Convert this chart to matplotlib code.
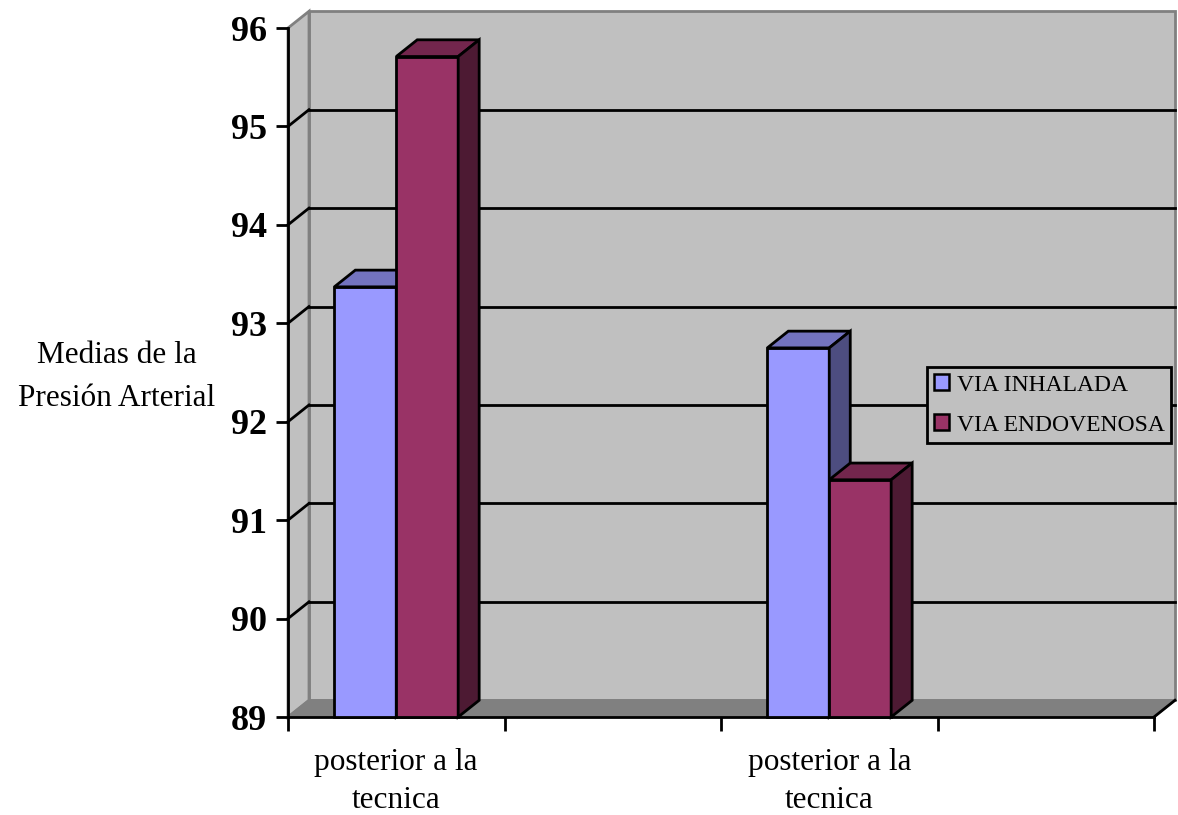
import numpy as np
import matplotlib
matplotlib.use('Agg')
import matplotlib.pyplot as plt
from matplotlib.patches import Polygon, Rectangle, Patch

plt.rcParams['font.family'] = ['Liberation Serif', 'DejaVu Serif']

categories = ['posterior a la\ntecnica', '', 'posterior a la\ntecnica', '']
series_names = ['VIA INHALADA', 'VIA ENDOVENOSA']
inhalada = [93.37, np.nan, 92.75, np.nan]
endovenosa = [95.71, np.nan, 91.41, np.nan]
y_ticks = [89, 90, 91, 92, 93, 94, 95, 96]

YMIN, YMAX = 89, 96
NCAT = len(categories)
# fake 3d depth, in data units
DX = 0.097
DY = 0.17

WALL = '#C0C0C0'
FLOOR = '#808080'
EDGE_GRAY = '#808080'

# front / top / side colours for each series
faces = [
    ('#9999FF', '#7373BF', '#4D4D80'),
    ('#993366', '#73264D', '#4D1A33'),
]


def draw_bar(ax, x0, w, v, cols):
    front, top, side = cols
    kw = dict(edgecolor='black', linewidth=2, joinstyle='miter', clip_on=False, zorder=5)
    ax.add_patch(Rectangle((x0, YMIN), w, v - YMIN, facecolor=front, **kw))
    ax.add_patch(Polygon([(x0, v), (x0 + w, v), (x0 + w + DX, v + DY), (x0 + DX, v + DY)],
                         closed=True, facecolor=top, **kw))
    ax.add_patch(Polygon([(x0 + w, YMIN), (x0 + w + DX, YMIN + DY), (x0 + w + DX, v + DY), (x0 + w, v)],
                         closed=True, facecolor=side, **kw))


fig = plt.figure(figsize=(11.78, 8.15), dpi=100)
ax = fig.add_axes([288 / 1178, 98 / 815, 866 / 1178, 689 / 815])
ax.set_xlim(0, NCAT)
ax.set_ylim(YMIN, YMAX)
ax.patch.set_visible(False)

# walls and floor
ax.add_patch(Rectangle((DX, YMIN + DY), NCAT, YMAX - YMIN, facecolor=WALL,
                       edgecolor=EDGE_GRAY, linewidth=2, clip_on=False, zorder=0))
ax.add_patch(Polygon([(0, YMIN), (DX, YMIN + DY), (DX, YMAX + DY), (0, YMAX)], closed=True,
                     facecolor=WALL, edgecolor=EDGE_GRAY, linewidth=2, clip_on=False, zorder=0))
ax.add_patch(Polygon([(0, YMIN), (NCAT, YMIN), (NCAT + DX, YMIN + DY), (DX, YMIN + DY)], closed=True,
                     facecolor=FLOOR, edgecolor=EDGE_GRAY, linewidth=1.5, clip_on=False, zorder=0.5))
ax.plot([NCAT, NCAT + DX], [YMIN, YMIN + DY], color='black', lw=2, clip_on=False, zorder=3)

# gridlines on back wall + side wall
for v in y_ticks[1:-1]:
    ax.plot([DX, NCAT + DX], [v + DY, v + DY], color='black', lw=2, clip_on=False, zorder=1)
    ax.plot([0, DX], [v, v + DY], color='black', lw=2, clip_on=False, zorder=1)

# bars
bw = 0.286
for i in range(NCAT):
    c = i + 0.5
    for j, vals in enumerate([inhalada, endovenosa]):
        v = vals[i]
        if np.isnan(v):
            continue
        draw_bar(ax, c - bw + j * bw, bw, v, faces[j])

# axes
for s in ['top', 'right']:
    ax.spines[s].set_visible(False)
for s in ['left', 'bottom']:
    ax.spines[s].set_linewidth(2)
    ax.spines[s].set_zorder(4)

ax.set_yticks(y_ticks)
ax.set_yticklabels([str(t) for t in y_ticks], fontsize=26, fontweight='bold')
ax.tick_params(axis='y', length=9, width=2, pad=6)

ax.set_xticks(np.arange(NCAT + 1))
ax.set_xticklabels([])
ax.tick_params(axis='x', which='major', length=10, width=2)
ax.set_xticks(np.arange(NCAT) + 0.5, minor=True)
ax.set_xticklabels(categories, minor=True, fontsize=22.5, linespacing=1.45)
ax.tick_params(axis='x', which='minor', length=0, pad=22)

fig.text(117 / 1178, 1 - 377 / 815, 'Medias de la\nPresión Arterial', fontsize=22.5,
         ha='center', va='center', multialignment='center', linespacing=1.68)

handles = [Patch(facecolor=faces[k][0], edgecolor='black', linewidth=1.8) for k in range(2)]
leg = ax.legend(handles, series_names, loc='center left',
                bbox_to_anchor=(927 / 1178, 1 - 405 / 815), bbox_transform=fig.transFigure,
                fontsize=17, frameon=True, fancybox=False, framealpha=1,
                facecolor=WALL, edgecolor='black', handlelength=0.65, handleheight=0.65,
                handletextpad=0.3, borderpad=0.3, labelspacing=0.8, borderaxespad=0)
leg.get_frame().set_linewidth(2)
leg.set_zorder(10)

fig.savefig('out.png', dpi=100)
